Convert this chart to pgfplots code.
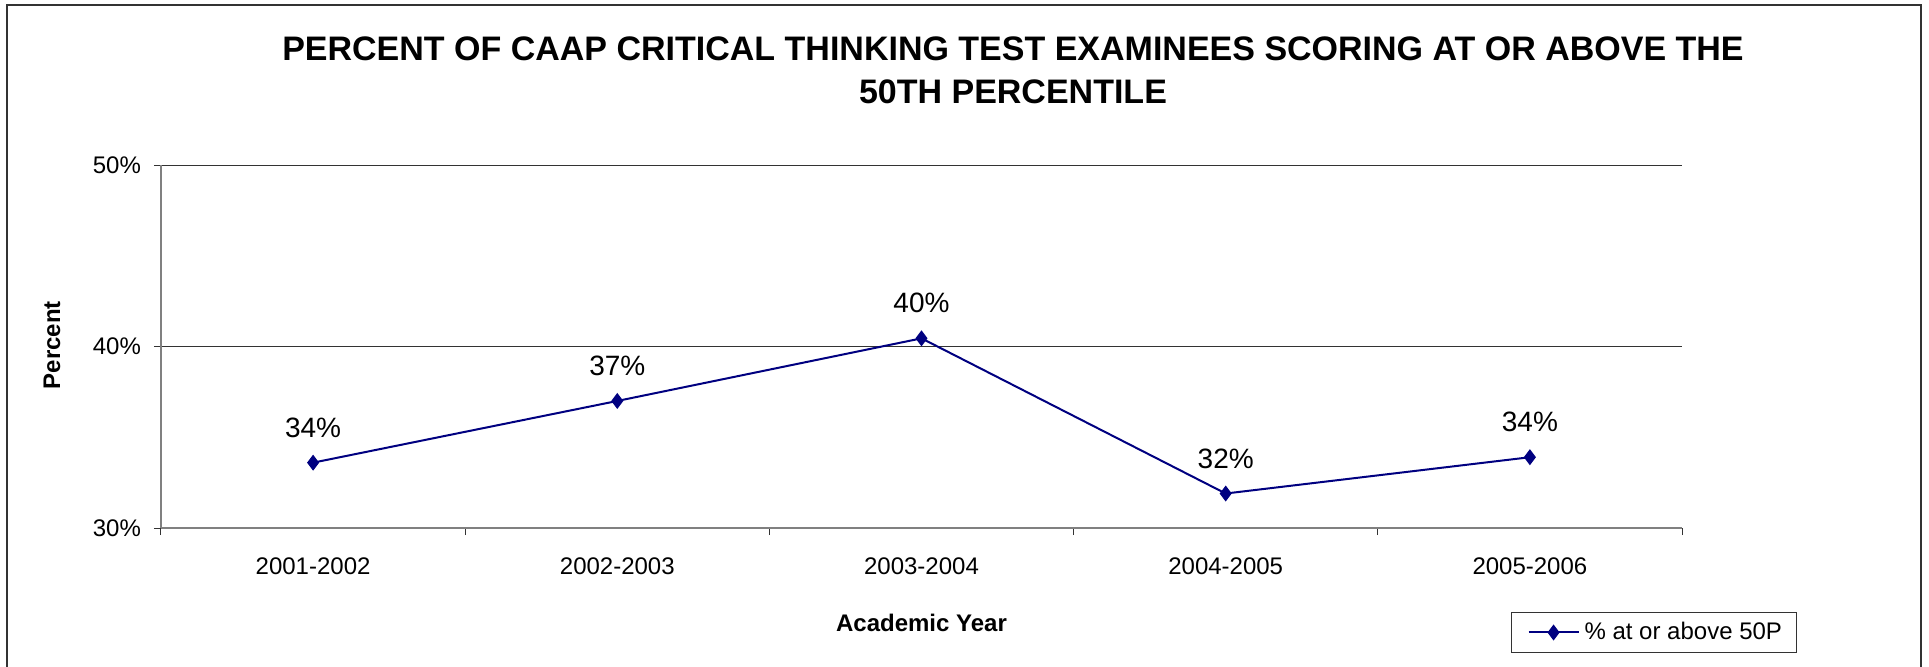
\documentclass[border=0pt]{standalone}
\usepackage{pgfplots}
\pgfplotsset{compat=1.18}
\usepackage{fontspec}
\setmainfont{Liberation Sans}
\definecolor{navy}{HTML}{000080}
\begin{document}
\begin{tikzpicture}[x=1pt,y=1pt]
\path[use as bounding box] (0,0) rectangle (964.5,333);
\draw[line width=1pt, black!80] (3.5,-3) -- (3.5,330.5) -- (960.5,330.5) -- (960.5,-3);
\node[align=center, font=\fontsize{17}{21.5}\selectfont\bfseries] at (506.5,297.75)
  {PERCENT OF CAAP CRITICAL THINKING TEST EXAMINEES SCORING AT OR ABOVE THE\\50TH PERCENTILE};
\begin{axis}[
  at={(80.5pt,69pt)}, anchor=south west,
  scale only axis, width=760.5pt, height=181.5pt,
  xmin=-0.5, xmax=4.5, ymin=30, ymax=50,
  axis x line*=bottom, axis y line*=left,
  axis line style={draw=gray, line width=1pt},
  xtick={-0.5,0.5,1.5,2.5,3.5,4.5},
  xticklabels={2001-2002,2002-2003,2003-2004,2004-2005,2005-2006},
  x tick label as interval,
  ytick={30,40,50},
  yticklabels={30\%,40\%,50\%},
  tick align=outside,
  major tick length=3.5pt,
  tick style={black!80, line width=0.5pt},
  ymajorgrids,
  major grid style={black!80, line width=0.5pt},
  ticklabel style={font=\fontsize{12}{14}\selectfont},
  xticklabel style={yshift=-8pt},
  yticklabel style={xshift=-3pt},
  xlabel={\textbf{Academic Year}},
  ylabel={\textbf{Percent}},
  label style={font=\fontsize{12}{14}\selectfont},
  xlabel style={at={(axis description cs:0.5,-0.2617)}, anchor=center},
  ylabel style={at={(axis description cs:-0.0717,0.504)}, anchor=center},
  legend style={at={(0.8876,-0.2314)}, anchor=north west, draw=black!80,
    line width=0.5pt, font=\fontsize{12}{14}\selectfont, inner xsep=4.5pt, inner ysep=2.4pt,
    nodes={inner sep=2.5pt}},
  legend image code/.code={\path (-3.5pt,0pt); \draw[mark repeat=2,mark phase=2,#1] plot coordinates {(0pt,0pt) (12.5pt,0pt) (25pt,0pt)};},
  clip=false,
]
\addplot[navy, line width=1pt, mark=diamond*, mark size=3.6pt, mark options={fill=navy, line width=0.5pt},
  point meta=explicit symbolic,
  nodes near coords, nodes near coords style={font=\fontsize{14}{16}\selectfont, text=black, anchor=center, yshift=17.5pt, inner sep=0.333em}]
  table[meta=lab] {
x y lab
0 33.6 34\%
1 37.0 37\%
2 40.45 40\%
3 31.9 32\%
4 33.9 34\%
};
\addlegendentry{\% at or above 50P}
\end{axis}
\end{tikzpicture}
\end{document}
